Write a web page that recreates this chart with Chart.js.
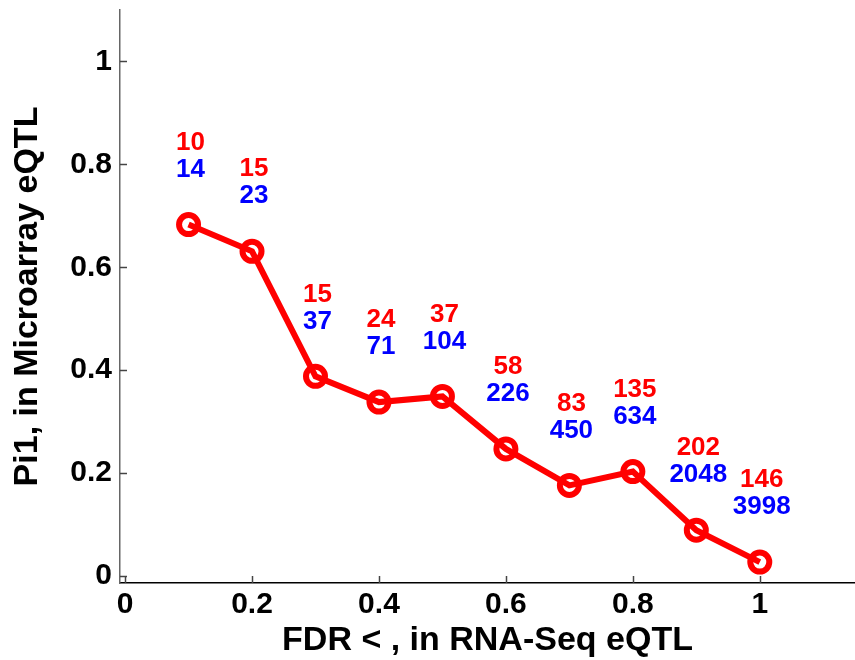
<!DOCTYPE html>
<html>
<head>
<meta charset="utf-8">
<script src="https://cdn.jsdelivr.net/npm/chart.js@4.4.1/dist/chart.umd.min.js"></script>
<style>
  body { margin: 0; background: #fff; }
  canvas { display: block; }
</style>
</head>
<body>
<canvas id="pi1Chart" width="855" height="660"></canvas>
<script>
// FDR cutoffs (x) and Pi1 estimates (y)
const fdrCutoffs = [0.1, 0.2, 0.3, 0.4, 0.5, 0.6, 0.7, 0.8, 0.9, 1.0];
const pi1Values = [0.683, 0.631, 0.388, 0.338, 0.349, 0.247, 0.176, 0.203, 0.089, 0.027];

// counts written above each point (red on top, blue below)
const redCounts = [10, 15, 15, 24, 37, 58, 83, 135, 202, 146];
const blueCounts = [14, 23, 37, 71, 104, 226, 450, 634, 2048, 3998];

const xTickValues = [0, 0.2, 0.4, 0.6, 0.8, 1];
const yTickValues = [0, 0.2, 0.4, 0.6, 0.8, 1];

const FONT = "'Liberation Sans', Arial, Helvetica, sans-serif";

// matlab style ticks pointing into the plot
const innerTicks = {
    id: 'innerTicks',
    afterDraw(chart) {
        const ctx = chart.ctx;
        const area = chart.chartArea;
        const xs = chart.scales.x, ys = chart.scales.y;
        ctx.save();
        ctx.lineWidth = 1.5;
        ctx.strokeStyle = '#444';
        yTickValues.forEach(v => {
            const py = Math.round(ys.getPixelForValue(v)) + 0.5;
            ctx.beginPath();
            ctx.moveTo(area.left, py);
            ctx.lineTo(area.left + 7, py);
            ctx.stroke();
        });
        xTickValues.forEach(v => {
            const px = Math.round(xs.getPixelForValue(v)) + 0.5;
            ctx.beginPath();
            ctx.moveTo(px, area.bottom);
            ctx.lineTo(px, area.bottom - 7);
            ctx.stroke();
        });
        ctx.restore();
    }
};

// the two count labels stacked above every point
const countLabels = {
    id: 'countLabels',
    afterDatasetsDraw(chart) {
        const ctx = chart.ctx;
        const xs = chart.scales.x, ys = chart.scales.y;
        ctx.save();
        ctx.font = 'bold 26px ' + FONT;
        ctx.textAlign = 'center';
        ctx.textBaseline = 'middle';
        fdrCutoffs.forEach((fdr, i) => {
            const px = xs.getPixelForValue(fdr) + 2;
            const py = ys.getPixelForValue(pi1Values[i]);
            ctx.fillStyle = '#0000ff';
            ctx.fillText(String(blueCounts[i]), px, py - 55);
            ctx.fillStyle = '#ff0000';
            ctx.fillText(String(redCounts[i]), px, py - 82);
        });
        ctx.restore();
    }
};

const ctx = document.getElementById('pi1Chart');
new Chart(ctx.getContext('2d'), {
    type: 'scatter',
    data: {
        datasets: [{
            data: fdrCutoffs.map((x, i) => ({ x: x, y: pi1Values[i] })),
            showLine: true,
            borderColor: '#ff0000',
            borderWidth: 6,
            pointRadius: 9.5,
            pointBorderWidth: 6,
            pointBorderColor: '#ff0000',
            pointBackgroundColor: 'rgba(0,0,0,0)'
        }]
    },
    options: {
        responsive: false,
        animation: false,
        layout: { autoPadding: false, padding: { top: 10, left: 0, right: 0, bottom: 0 } },
        plugins: {
            legend: { display: false },
            tooltip: { enabled: false }
        },
        scales: {
            x: {
                type: 'linear',
                min: -0.008,
                max: 1.15,
                afterBuildTicks: scale => { scale.ticks = xTickValues.map(v => ({ value: v })); },
                afterFit: scale => { scale.height = 77; scale.paddingLeft = 0; scale.paddingRight = 0; },
                grid: { display: false, drawTicks: false },
                border: { display: true, color: '#000', width: 1.5 },
                ticks: {
                    padding: 4,
                    color: '#000',
                    font: { family: FONT, size: 30, weight: 'bold' },
                    callback: v => String(v)
                },
                title: {
                    display: true,
                    text: 'FDR < , in RNA-Seq eQTL',
                    color: '#000',
                    font: { family: FONT, size: 34, weight: 'bold', lineHeight: 1 },
                    padding: { top: 0, bottom: 2 }
                }
            },
            y: {
                type: 'linear',
                min: -0.0136,
                max: 1.1,
                afterBuildTicks: scale => { scale.ticks = yTickValues.map(v => ({ value: v })); },
                afterFit: scale => { scale.width = 120; scale.paddingTop = 0; scale.paddingBottom = 0; },
                grid: { display: false, drawTicks: false },
                border: { display: true, color: '#666', width: 1.5 },
                ticks: {
                    padding: 8,
                    color: '#000',
                    font: { family: FONT, size: 30, weight: 'bold' },
                    callback: v => String(v)
                },
                title: {
                    display: true,
                    text: 'Pi1, in Microarray eQTL',
                    color: '#000',
                    font: { family: FONT, size: 34, weight: 'bold', lineHeight: 1 },
                    padding: { top: 11, bottom: 0 }
                }
            }
        }
    },
    plugins: [innerTicks, countLabels]
});
</script>
</body>
</html>
